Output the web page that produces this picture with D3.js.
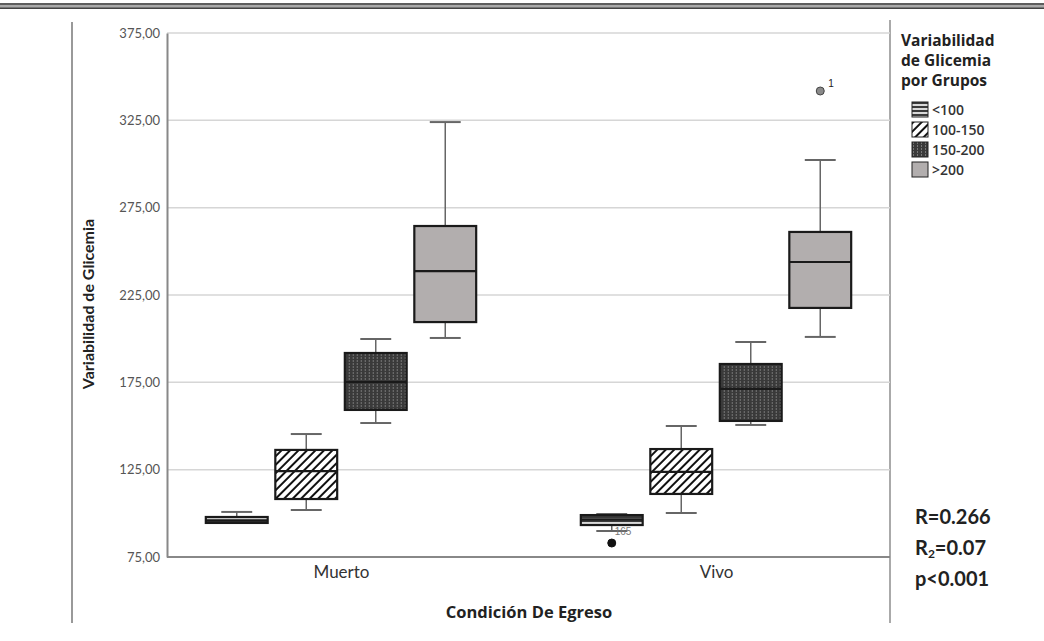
<!DOCTYPE html>
<html><head><meta charset="utf-8">
<script src="https://cdn.jsdelivr.net/npm/d3@7"></script>
<style>
html,body{margin:0;padding:0;background:#fff;}
svg{display:block;}
</style></head>
<body>
<svg id="chart" width="1044" height="641"></svg>
<script>
// ---- data ----
const categories = ["Muerto", "Vivo"];
const groups = ["<100", "100-150", "150-200", ">200"];
// five-number summaries per category, in group order: [min, q1, median, q3, max]
const muertoStats = [
  [94.5, 94.5, 96.0, 97.9, 100.8],
  [101.9, 108.2, 124.2, 136.3, 145.4],
  [151.7, 159.2, 175.2, 191.8, 199.8],
  [200.4, 209.5, 238.7, 264.5, 324.0]
];
const vivoStats = [
  [89.9, 93.3, 96.5, 99.0, 99.6],
  [100.2, 111.1, 123.7, 136.8, 150.0],
  [150.6, 152.9, 171.2, 185.5, 198.1],
  [201.0, 217.6, 243.9, 261.1, 302.3]
];
// outliers: [category, group, value, label]
const outliers = [
  ["Vivo", "<100", 83.0, "165"],
  ["Vivo", ">200", 341.8, "1"]
];
const yTicks = [75, 125, 175, 225, 275, 325, 375];
const statsLines = ["R=0.266", "R2=0.07", "p<0.001"];

// ---- build ----
const rows = [];
categories.forEach((c, ci) => {
  const src = ci === 0 ? muertoStats : vivoStats;
  groups.forEach((g, gi) => {
    const s = src[gi];
    rows.push({cat: c, grp: g, min: s[0], q1: s[1], med: s[2], q3: s[3], max: s[4]});
  });
});

const svg = d3.select("#chart");
const defs = svg.append("defs");

// patterns
const pH = defs.append("pattern").attr("id", "pH").attr("patternUnits", "userSpaceOnUse")
  .attr("width", 4).attr("height", 4);
pH.append("rect").attr("width", 4).attr("height", 4).attr("fill", "#d8d8d8");
pH.append("rect").attr("width", 4).attr("height", 2).attr("fill", "#3a3a3a");

const pD = defs.append("pattern").attr("id", "pD").attr("patternUnits", "userSpaceOnUse")
  .attr("width", 6).attr("height", 6).attr("patternTransform", "rotate(45)");
pD.append("rect").attr("width", 6).attr("height", 6).attr("fill", "#fff");
pD.append("rect").attr("x", 0).attr("width", 2).attr("height", 6).attr("fill", "#111");

const pV = defs.append("pattern").attr("id", "pV").attr("patternUnits", "userSpaceOnUse")
  .attr("width", 4).attr("height", 3);
pV.append("rect").attr("width", 4).attr("height", 3).attr("fill", "#3a3a3a");
pV.append("rect").attr("x", 1).attr("y", 0).attr("width", 1).attr("height", 2).attr("fill", "#777");

const fills = {"<100": "url(#pH)", "100-150": "url(#pD)", "150-200": "url(#pV)", ">200": "#b2aeae"};

const plotL = 167, plotR = 890, plotT = 33, plotB = 557;

const y = d3.scaleLinear().domain([75, 375]).range([plotB, plotT]);
const x = d3.scalePoint().domain(categories).range([plotL, plotR]).padding(0.464);
const xs = d3.scaleBand().domain(groups).range([-139, 139]).paddingInner(0.11).paddingOuter(0.055);
const bw = xs.bandwidth();

// top double line
svg.append("rect").attr("x", 0).attr("y", 3).attr("width", 1044).attr("height", 6).attr("fill", "#aaa");
svg.append("line").attr("x1", 0).attr("x2", 1044).attr("y1", 4).attr("y2", 4).attr("stroke", "#444").attr("stroke-width", 1.5);
svg.append("line").attr("x1", 0).attr("x2", 1044).attr("y1", 8.3).attr("y2", 8.3).attr("stroke", "#444").attr("stroke-width", 1.5);

// outer frame verticals
svg.append("line").attr("x1", 72).attr("x2", 72).attr("y1", 22).attr("y2", 623).attr("stroke", "#999").attr("stroke-width", 2);
svg.append("line").attr("x1", plotR).attr("x2", plotR).attr("y1", 20).attr("y2", 623).attr("stroke", "#aaa").attr("stroke-width", 2);

// gridlines
svg.append("g").selectAll("line").data(yTicks.filter(t => t !== 75)).join("line")
  .attr("x1", plotL).attr("x2", plotR)
  .attr("y1", d => y(d)).attr("y2", d => y(d))
  .attr("stroke", "#d6d6d6").attr("stroke-width", 1.5);

// y axis
const fmt = d => d3.format(".2f")(d).replace(".", ",");
const yAxis = svg.append("g").attr("transform", `translate(${plotL},0)`)
  .call(d3.axisLeft(y).tickValues(yTicks).tickFormat(fmt).tickSize(0).tickPadding(7));
yAxis.select(".domain").attr("stroke", "#888").attr("stroke-width", 2);
yAxis.selectAll("text").attr("font-family", "Lato, sans-serif").attr("font-size", 13).attr("fill", "#555");

// x axis
const xAxis = svg.append("g").attr("transform", `translate(0,${plotB})`)
  .call(d3.axisBottom(x).tickSize(0).tickPadding(9));
xAxis.select(".domain").attr("d", `M${plotL},0H${plotR}`).attr("stroke", "#888").attr("stroke-width", 2);
xAxis.selectAll("text").attr("font-family", "Lato, sans-serif").attr("font-size", 17).attr("fill", "#333");

// axis titles
svg.append("text").attr("transform", `translate(94,304) rotate(-90)`).attr("text-anchor", "middle")
  .attr("font-family", "Lato, sans-serif").attr("font-weight", "bold").attr("font-size", 16).attr("fill", "#222")
  .text("Variabilidad de Glicemia");
svg.append("text").attr("x", 529).attr("y", 618).attr("text-anchor", "middle")
  .attr("font-family", "'Open Sans', sans-serif").attr("font-weight", "bold").attr("font-size", 16.5).attr("fill", "#222")
  .text("Condición De Egreso");

// boxes
const bg = svg.append("g").selectAll("g").data(rows).join("g")
  .attr("transform", d => `translate(${x(d.cat) + xs(d.grp) + bw / 2},0)`);
const wStroke = "#666";
bg.append("line").attr("x1", 0).attr("x2", 0).attr("y1", d => y(d.max)).attr("y2", d => y(d.q3))
  .attr("stroke", wStroke).attr("stroke-width", 1.5);
bg.append("line").attr("x1", 0).attr("x2", 0).attr("y1", d => y(d.q1)).attr("y2", d => y(d.min))
  .attr("stroke", wStroke).attr("stroke-width", 1.5);
bg.append("line").attr("x1", -bw / 4).attr("x2", bw / 4).attr("y1", d => y(d.max)).attr("y2", d => y(d.max))
  .attr("stroke", wStroke).attr("stroke-width", 2);
bg.append("line").attr("x1", -bw / 4).attr("x2", bw / 4).attr("y1", d => y(d.min)).attr("y2", d => y(d.min))
  .attr("stroke", wStroke).attr("stroke-width", 2);
bg.append("rect").attr("x", -bw / 2).attr("width", bw)
  .attr("y", d => y(d.q3)).attr("height", d => y(d.q1) - y(d.q3))
  .attr("fill", d => fills[d.grp]).attr("stroke", "#1a1a1a").attr("stroke-width", 2.2);
bg.append("line").attr("x1", -bw / 2).attr("x2", bw / 2).attr("y1", d => y(d.med)).attr("y2", d => y(d.med))
  .attr("stroke", "#1a1a1a").attr("stroke-width", 2.2);

// outliers
outliers.forEach(o => {
  const cx = x(o[0]) + xs(o[1]) + bw / 2;
  const cy = y(o[2]);
  const isTop = o[1] === ">200";
  svg.append("circle").attr("cx", cx).attr("cy", cy).attr("r", 4)
    .attr("fill", isTop ? "#8a8a8a" : "#111").attr("stroke", isTop ? "#444" : "#111").attr("stroke-width", 1);
  if (isTop) {
    svg.append("text").attr("x", cx + 8).attr("y", cy - 4)
      .attr("font-family", "Liberation Sans, Arial, sans-serif").attr("font-size", 10).attr("fill", "#222").text(o[3]);
  } else {
    svg.append("text").attr("x", cx + 3).attr("y", y(vivoStats[0][0]) + 4)
      .attr("font-family", "Liberation Sans, Arial, sans-serif").attr("font-size", 10).attr("fill", "#777").text(o[3]);
  }
});

// legend
const lt = svg.append("text").attr("font-family", "'Open Sans', sans-serif").attr("font-weight", "bold")
  .attr("font-size", 15.5).attr("fill", "#222");
["Variabilidad", "de Glicemia", "por Grupos"].forEach((s, i) => {
  lt.append("tspan").attr("x", 901).attr("y", 46 + i * 20).text(s);
});
const lg = svg.append("g").selectAll("g").data(groups).join("g")
  .attr("transform", (d, i) => `translate(912,${102 + i * 20})`);
lg.append("rect").attr("width", 16).attr("height", 15).attr("fill", d => fills[d])
  .attr("stroke", "#222").attr("stroke-width", 1);
lg.append("text").attr("x", 20).attr("y", 13).attr("font-family", "'Open Sans', sans-serif")
  .attr("font-weight", 600).attr("font-size", 14).attr("fill", "#333").text(d => d);

// stats text
const st = svg.append("g").attr("font-family", "Lato, sans-serif").attr("font-weight", "bold")
  .attr("font-size", 20).attr("fill", "#222");
statsLines.forEach((s, i) => {
  const t = st.append("text").attr("x", 915).attr("y", 524 + i * 31);
  if (s.startsWith("R2")) {
    t.append("tspan").text("R");
    t.append("tspan").attr("font-size", 12).attr("dy", 3).text("2");
    t.append("tspan").attr("dy", -3).text(s.slice(2));
  } else {
    t.text(s);
  }
});
</script>
</body></html>
